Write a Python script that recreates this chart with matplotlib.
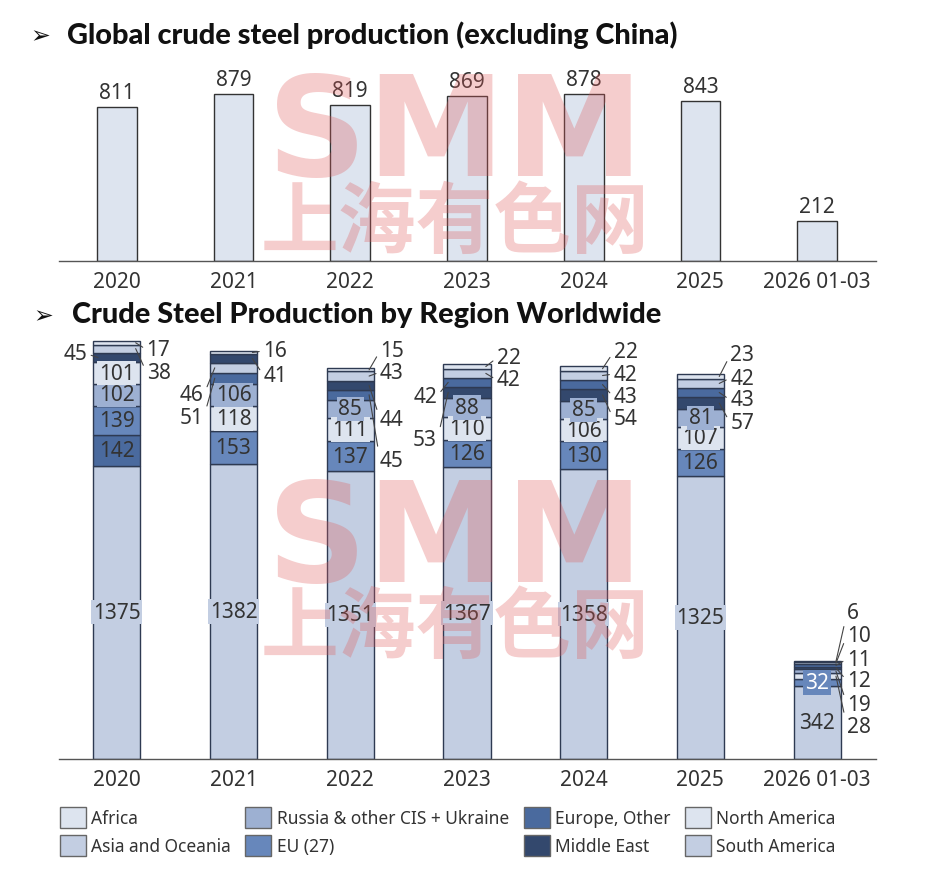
import numpy as np
import matplotlib.pyplot as plt
from matplotlib.patches import Patch

plt.rcParams['font.family'] = ['Noto Sans', 'DejaVu Sans']

# data
years = ['2020', '2021', '2022', '2023', '2024', '2025', '2026 01-03']
ex_china = [811, 879, 819, 869, 878, 843, 212]

regions = ['Africa', 'Asia and Oceania', 'Russia & other CIS + Ukraine', 'EU (27)',
           'Europe, Other', 'Middle East', 'North America', 'South America']
africa = [17, 16, 15, 22, 22, 23, 6]
asia_oceania = [1375, 1382, 1351, 1367, 1358, 1325, 342]
cis = [102, 106, 85, 88, 85, 81, 19]
eu27 = [139, 153, 137, 126, 130, 126, 32]
europe_other = [142, 51, 45, 42, 43, 43, 11]
middle_east = [45, 41, 44, 53, 54, 57, 12]
north_america = [101, 118, 111, 110, 106, 107, 28]
south_america = [38, 46, 43, 42, 42, 42, 10]

region_values = [africa, asia_oceania, cis, eu27, europe_other,
                 middle_east, north_america, south_america]
region_colors = ['#dde4ef', '#c3cee2', '#9db0d2', '#6787bb',
                 '#4a6a9e', '#33486d', '#dde4ef', '#c3cee2']

# how many of the biggest segments get an inside label, per year
inside_count = [5, 4, 4, 4, 4, 4, 2]
# outside labels: region index -> (side, vertical shift in px from segment middle)
outside = [
    {5: ('L', 3.5), 7: ('R', -24), 0: ('R', -7)},
    {0: ('R', 1.5), 5: ('R', -16.5), 7: ('L', -27), 4: ('L', -39)},
    {0: ('R', 19), 7: ('R', 4), 5: ('R', -34), 4: ('R', -66)},
    {0: ('R', 8.6), 7: ('R', -6.6), 4: ('L', -13.7), 5: ('L', -47.5)},
    {0: ('R', 16.7), 7: ('R', 1.5), 4: ('R', -12.4), 5: ('R', -24)},
    {0: ('R', 21.5), 7: ('R', 5.4), 4: ('R', -7.5), 5: ('R', -19.8)},
    {0: ('R', 48.5), 7: ('R', 28), 4: ('R', 6.4), 5: ('R', -13), 2: ('R', -33), 6: ('R', -50)},
]

W, H = 932, 870
fig = plt.figure(figsize=(W / 100, H / 100), dpi=100)
txt_col = '#333333'
edge_col = '#2e3a52'


def px_axes(x0, y0, x1, y1):
    return fig.add_axes([x0 / W, 1 - y1 / H, (x1 - x0) / W, (y1 - y0) / H])


def style_axes(ax):
    for s in ['top', 'left', 'right']:
        ax.spines[s].set_visible(False)
    ax.spines['bottom'].set_color('#555555')
    ax.spines['bottom'].set_linewidth(1.0)
    ax.set_yticks([])
    ax.tick_params(axis='x', length=0, pad=7, labelsize=15, labelcolor=txt_col)


x = np.arange(len(years))

# top chart
ax1 = px_axes(58.5, 70, 875.5, 262)
style_axes(ax1)
ax1.bar(x, ex_china, width=0.34, color='#dde4ef', edgecolor='#333333', linewidth=1.0)
for xi, v in zip(x, ex_china):
    ax1.annotate(str(v), (xi, v), xytext=(0, 3), textcoords='offset points',
                 ha='center', va='bottom', fontsize=15, color=txt_col)
ax1.set_xlim(-0.5, len(years) - 0.5)
ax1.set_ylim(0, 1010)
ax1.set_xticks(x)
ax1.set_xticklabels(years)

# bottom chart
ax2 = px_axes(58.5, 330, 875.5, 760)
style_axes(ax2)
ax2.set_xlim(-0.5, len(years) - 0.5)
ax2.set_ylim(0, 2015)
ax2.set_xticks(x)
ax2.set_xticklabels(years)

bw = 0.403
for i in range(len(years)):
    vals = np.array([r[i] for r in region_values])
    order = np.argsort(-vals, kind='stable')
    bottom = 0
    for rank, ri in enumerate(order):
        v = vals[ri]
        ax2.bar(i, v, bottom=bottom, width=bw, color=region_colors[ri],
                edgecolor=edge_col, linewidth=1.0)
        mid = bottom + v / 2
        if rank < inside_count[i]:
            white = (i == len(years) - 1 and rank == 1)
            ax2.text(i, mid, str(v), ha='center', va='center', fontsize=15,
                     color='white' if white else txt_col,
                     bbox=dict(boxstyle='square,pad=0.08', fc=region_colors[ri], ec='none'))
        elif ri in outside[i]:
            side, dy = outside[i][ri]
            sgn = 1 if side == 'R' else -1
            ax2.annotate(str(v), (i + sgn * bw * 0.4, mid), xytext=(sgn * 11, dy),
                         textcoords='offset pixels', ha='left' if side == 'R' else 'right',
                         va='center', fontsize=15, color=txt_col,
                         arrowprops=dict(arrowstyle='-', color='#444444', lw=0.8,
                                         shrinkA=1, shrinkB=0,
                                         relpos=(0, 0.5) if side == 'R' else (1, 0.5)))
        bottom += v

# legend
handles = [Patch(facecolor=c, edgecolor='#666666', linewidth=1.0) for c in region_colors]
fig.legend(handles, regions, ncol=4, loc='upper left', bbox_to_anchor=(44 / W, 1 - 792 / H),
           frameon=False, fontsize=12.5, labelcolor=txt_col, handlelength=1.5, handleheight=1.5,
           handletextpad=0.3, columnspacing=0.85, labelspacing=0.42)

# titles
title_font = dict(family=['Lato', 'DejaVu Sans'], fontsize=20.8, fontweight='black',
                  va='center', color='#111111')
fig.text(30 / W, 1 - 36 / H, '➢', family='DejaVu Sans', fontsize=17, va='center', color='#111111')
fig.text(67 / W, 1 - 35 / H, 'Global crude steel production (excluding China)', **title_font)
fig.text(33 / W, 1 - 316 / H, '➢', family='DejaVu Sans', fontsize=17, va='center', color='#111111')
fig.text(72 / W, 1 - 315 / H, 'Crude Steel Production by Region Worldwide', **title_font)

# watermark
for yc in [138, 543]:
    fig.text(455 / W, 1 - yc / H, 'SMM', family='DejaVu Sans', fontsize=100, fontweight='bold',
             ha='center', va='center', color='#e05a5a', alpha=0.3, zorder=10)
    fig.text(455 / W, 1 - (yc + 86) / H, '上海有色网', family='Noto Sans CJK SC', fontsize=56,
             fontweight='bold', ha='center', va='center', color='#e05a5a', alpha=0.3, zorder=10)

fig.savefig('out.png', dpi=100)
